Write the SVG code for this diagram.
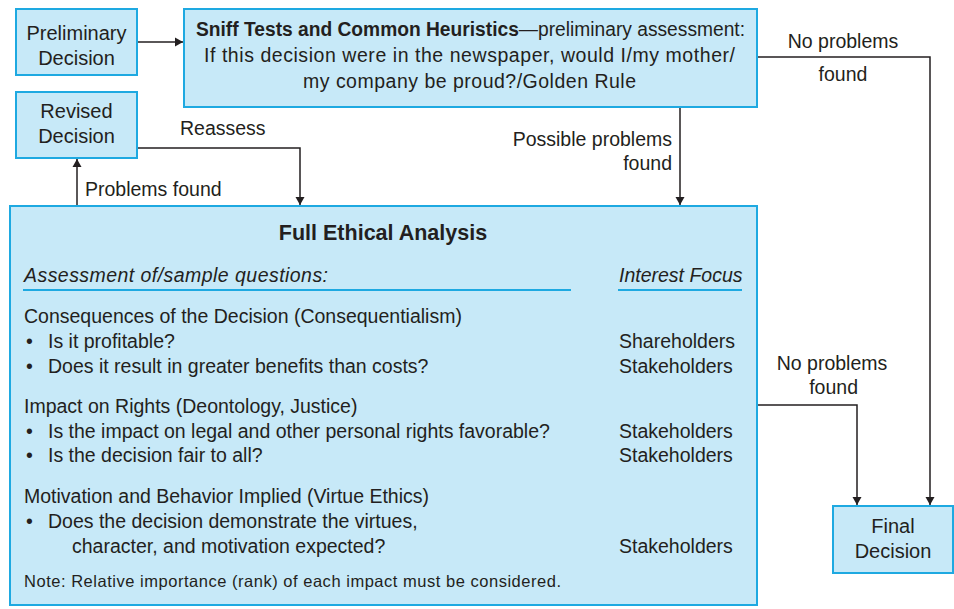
<svg xmlns="http://www.w3.org/2000/svg" width="954" height="609" viewBox="0 0 954 609">
<defs>
<marker id="ah" viewBox="0 0 8 12" refX="8" refY="6" markerWidth="8" markerHeight="12" markerUnits="userSpaceOnUse" orient="auto">
<path d="M0,1.5 L8,6 L0,10.5 Z" fill="#231f20"/>
</marker>
<style>
.box{fill:#c7e9f8;stroke:#1ea9e1;stroke-width:2}
text{font-family:"Liberation Sans",Arial,sans-serif;font-size:19.5px;fill:#231f20}
.c{text-anchor:middle}
.r{text-anchor:end}
.b{font-weight:bold}
.i{font-style:italic}
.n{font-size:16.5px}
.ln{fill:none;stroke:#231f20;stroke-width:1.5}
.ul{stroke:#1ea9e1;stroke-width:2}
</style>
</defs>
<rect width="954" height="609" fill="#ffffff"/>
<g id="connectors">
<path class="ln" d="M137,42 H183" marker-end="url(#ah)"/>
<path class="ln" d="M137,148 H300 V205" marker-end="url(#ah)"/>
<path class="ln" d="M77,206 V159" marker-end="url(#ah)"/>
<path class="ln" d="M680,107 V205" marker-end="url(#ah)"/>
<path class="ln" d="M757,57 H930 V505" marker-end="url(#ah)"/>
<path class="ln" d="M757,405 H857 V505" marker-end="url(#ah)"/>
<text x="180" y="135">Reassess</text>
<text x="85" y="196">Problems found</text>
<text class="r" x="672" y="146">Possible problems</text>
<text class="r" x="672" y="170">found</text>
<text class="c" x="843" y="48">No problems</text>
<text class="c" x="843" y="81">found</text>
<text class="c" x="832" y="370">No problems</text>
<text class="r" x="858" y="394">found</text>
</g>
<g id="preliminary">
<rect class="box" x="16" y="9" width="121" height="66"/>
<text class="c" x="76.5" y="40" style="font-size:20px">Preliminary</text>
<text class="c" x="76.5" y="65" style="font-size:20px">Decision</text>
</g>
<g id="revised">
<rect class="box" x="16" y="92" width="121" height="66"/>
<text class="c" x="76.5" y="118" style="font-size:20px">Revised</text>
<text class="c" x="76.5" y="143" style="font-size:20px">Decision</text>
</g>
<g id="sniff">
<rect class="box" x="184" y="9" width="573" height="98"/>
<text x="196" y="36" textLength="549" lengthAdjust="spacingAndGlyphs"><tspan class="b">Sniff Tests and Common Heuristics</tspan>—preliminary assessment:</text>
<text x="204" y="62" textLength="531">If this decision were in the newspaper, would I/my mother/</text>
<text x="303" y="88" textLength="333">my company be proud?/Golden Rule</text>
</g>
<g id="full">
<rect class="box" x="10" y="206" width="747" height="399"/>
<text class="c b" x="383" y="240" style="font-size:21.5px">Full Ethical Analysis</text>
<text class="i" x="24" y="282" textLength="304">Assessment of/sample questions:</text>
<text class="i" x="619" y="282">Interest Focus</text>
<line class="ul" x1="23" y1="290" x2="571" y2="290"/>
<line class="ul" x1="618" y1="290" x2="742" y2="290"/>
<text x="24" y="323">Consequences of the Decision (Consequentialism)</text>
<text x="26" y="348">•</text><text x="48" y="348">Is it profitable?</text>
<text x="26" y="373">•</text><text x="48" y="373">Does it result in greater benefits than costs?</text>
<text x="619" y="348">Shareholders</text>
<text x="619" y="373">Stakeholders</text>
<text x="24" y="413">Impact on Rights (Deontology, Justice)</text>
<text x="26" y="438">•</text><text x="48" y="438">Is the impact on legal and other personal rights favorable?</text>
<text x="26" y="462">•</text><text x="48" y="462">Is the decision fair to all?</text>
<text x="619" y="438">Stakeholders</text>
<text x="619" y="462">Stakeholders</text>
<text x="24" y="503">Motivation and Behavior Implied (Virtue Ethics)</text>
<text x="26" y="528">•</text><text x="48" y="528">Does the decision demonstrate the virtues,</text>
<text x="72" y="553">character, and motivation expected?</text>
<text x="619" y="553">Stakeholders</text>
<text class="n" x="24" y="587" textLength="537">Note: Relative importance (rank) of each impact must be considered.</text>
</g>
<g id="final">
<rect class="box" x="833" y="506" width="120" height="67"/>
<text class="c" x="893" y="533" style="font-size:20px">Final</text>
<text class="c" x="893" y="558" style="font-size:20px">Decision</text>
</g>
</svg>
